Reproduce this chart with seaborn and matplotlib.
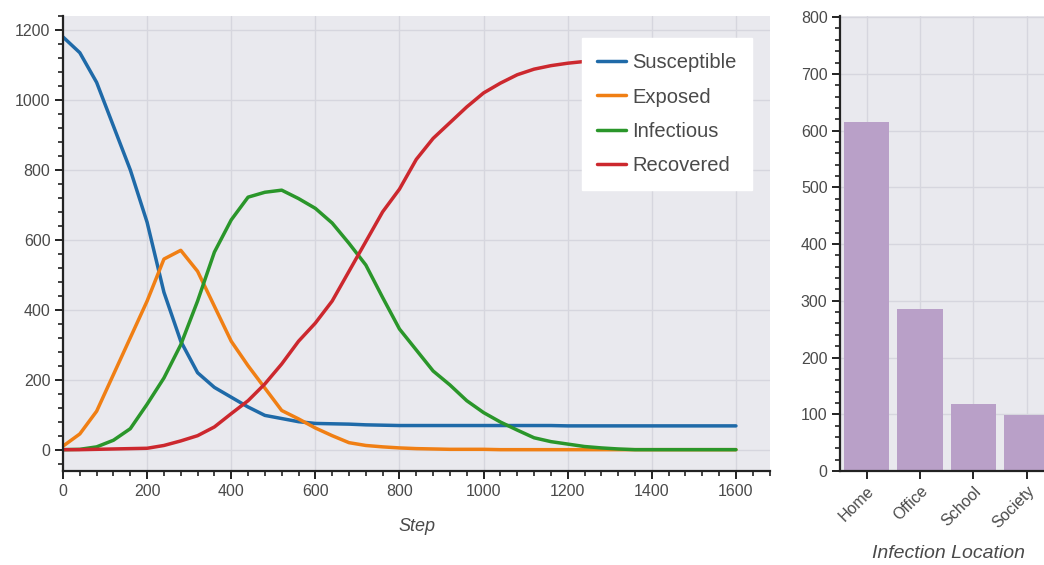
import matplotlib
matplotlib.use("Agg")
import matplotlib.pyplot as plt
from matplotlib.ticker import MultipleLocator
import pandas as pd
import seaborn as sns

# SEIR simulation output, sampled every 40 steps
steps = list(range(0, 1601, 40))
susceptible = [1180, 1135, 1050, 925, 800, 650, 450, 310, 220, 178, 150, 122, 98, 89, 80,
               75, 74, 73, 71, 70, 69, 69, 69, 69, 69, 69, 69, 69, 69, 69, 68, 68, 68, 68,
               68, 68, 68, 68, 68, 68, 68]
exposed = [10, 45, 110, 215, 320, 425, 545, 570, 510, 410, 310, 240, 176, 112, 88, 62, 40,
           20, 12, 8, 5, 3, 2, 1, 1, 1, 0, 0, 0, 0, 0, 0, 0, 0, 0, 0, 0, 0, 0, 0, 0]
infectious = [0, 1, 8, 27, 60, 130, 205, 300, 425, 565, 657, 722, 736, 742, 718, 690, 648,
              590, 528, 435, 345, 285, 225, 185, 140, 106, 79, 56, 34, 23, 16, 9, 5, 2, 0,
              0, 0, 0, 0, 0, 0]
recovered = [0, 0, 1, 2, 3, 4, 12, 25, 40, 65, 103, 140, 188, 245, 310, 362, 425, 510, 595,
             680, 745, 830, 890, 935, 980, 1020, 1048, 1072, 1088, 1098, 1105, 1110, 1113,
             1115, 1117, 1118, 1119, 1119, 1120, 1120, 1120]
states = ["Susceptible", "Exposed", "Infectious", "Recovered"]
state_colors = ["#1f6aa8", "#f07f14", "#2a962a", "#cc282e"]

# Where infections happened
locations = ["Home", "Office", "School", "Society"]
infections = [615, 285, 118, 98]

sns.set_theme(style="darkgrid")
plt.rcParams["font.family"] = ["Liberation Sans", "DejaVu Sans"]

seir = pd.DataFrame({"Step": steps, "Susceptible": susceptible, "Exposed": exposed,
                     "Infectious": infectious, "Recovered": recovered})
seir_long = seir.melt(id_vars="Step", var_name="State", value_name="Count")

W, H = 1044, 565
fig = plt.figure(figsize=(W / 100, H / 100), dpi=100, facecolor="white")


def px_box(left, top, right, bottom):
    return [left / W, 1 - bottom / H, (right - left) / W, (bottom - top) / H]


ax1 = fig.add_axes(px_box(63, 16, 770, 471))
ax2 = fig.add_axes(px_box(840, 16, 1056, 471))

PANEL_BG = "#e9e9ee"
GRID = "#d6d6de"
TEXT = "#4a4a4a"

# --- SEIR curves ---
sns.lineplot(data=seir_long, x="Step", y="Count", hue="State", hue_order=states,
             palette=dict(zip(states, state_colors)), linewidth=2.5, ax=ax1)
ax1.set_xlim(0, 1681)
ax1.set_ylim(-61, 1240)
ax1.xaxis.set_major_locator(MultipleLocator(200))
ax1.xaxis.set_minor_locator(MultipleLocator(40))
ax1.yaxis.set_major_locator(MultipleLocator(200))
ax1.yaxis.set_minor_locator(MultipleLocator(40))
ax1.set_xlabel("Step", fontsize=13, fontstyle="italic", color=TEXT, labelpad=14)
ax1.set_ylabel("")

handles, labels = ax1.get_legend_handles_labels()
ax1.legend(handles, labels, loc="upper right", bbox_to_anchor=(0.9745, 0.951),
           borderaxespad=0, frameon=True, facecolor="white", edgecolor="white",
           framealpha=1, fancybox=False, fontsize=14.5, labelspacing=0.75,
           handlelength=1.45, handletextpad=0.3, borderpad=0.75, labelcolor=TEXT)

# --- infections by location ---
sns.barplot(x=locations, y=infections, color="#b9a0c8", saturation=1, width=0.85,
            linewidth=0, ax=ax2)
ax2.set_xlim(-0.5, 3.55)
ax2.set_ylim(0, 802)
ax2.yaxis.set_major_locator(MultipleLocator(100))
ax2.yaxis.set_minor_locator(MultipleLocator(20))
ax2.set_xlabel("Infection Location", fontsize=14, fontstyle="italic", color=TEXT, labelpad=10)
ax2.set_ylabel("")
for lab in ax2.get_xticklabels():
    lab.set_rotation(45)
    lab.set_ha("right")
    lab.set_rotation_mode("anchor")

for ax in (ax1, ax2):
    ax.set_facecolor(PANEL_BG)
    ax.grid(which="major", color=GRID, linewidth=1)
    ax.grid(which="minor", visible=False)
    for side in ("top", "right"):
        ax.spines[side].set_visible(False)
    for side in ("left", "bottom"):
        ax.spines[side].set_visible(True)
        ax.spines[side].set_color("#222222")
        ax.spines[side].set_linewidth(1.6)
    ax.tick_params(which="major", bottom=True, left=True, direction="out", length=6,
                   width=1.4, color="#222222", labelcolor=TEXT, labelsize=11.5, pad=3)
    ax.tick_params(which="minor", bottom=True, left=True, direction="out", length=3.5,
                   width=1.2, color="#222222")
ax2.tick_params(axis="x", which="minor", bottom=False)

fig.savefig("out.png", dpi=100, facecolor="white")
